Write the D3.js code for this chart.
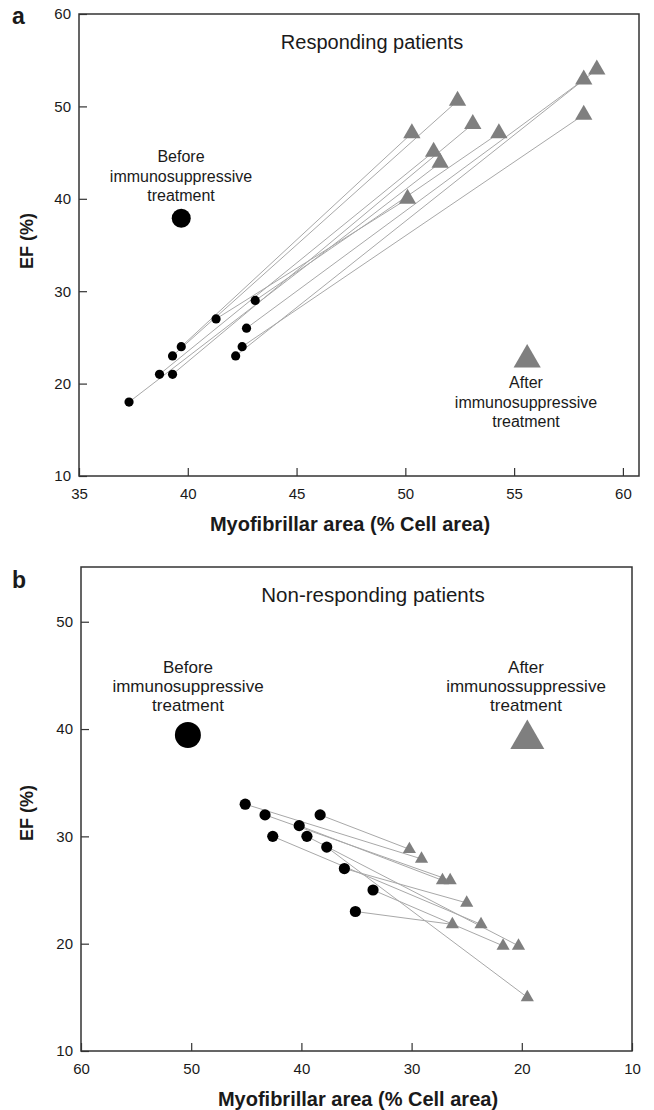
<!DOCTYPE html>
<html>
<head>
<meta charset="utf-8">
<script src="https://cdn.jsdelivr.net/npm/d3@7"></script>
<style>
  body { margin: 0; background: #fff; }
  svg text { font-family: "Liberation Sans", Arial, sans-serif; fill: #1a1a1a; }
</style>
</head>
<body>
<div id="chart"></div>
<script>
const width = 654;
const height = 1110;

// Responding patients (panel a), index i = same patient before/after
const respBeforeX = [37.3, 38.7, 39.3, 39.3, 39.7, 41.3, 43.1, 42.7, 42.5, 42.2];
const respBeforeY = [18, 21, 21, 23, 24, 27, 29, 26, 24, 23];
const respAfterX = [51.6, 51.3, 53.1, 52.4, 50.3, 50.1, 54.3, 58.2, 58.2, 58.8];
const respAfterY = [43.9, 45.1, 48.1, 50.6, 47.1, 40.0, 47.1, 52.9, 49.1, 54.0];

// Non-responding patients (panel b)
const nonBeforeX = [45.1, 43.3, 38.3, 40.2, 39.5, 42.6, 37.7, 36.1, 33.5, 35.1];
const nonBeforeY = [33, 32, 32, 31, 30, 30, 29, 27, 25, 23];
const nonAfterX = [29.1, 26.5, 30.2, 27.2, 20.3, 23.7, 19.5, 25.0, 21.7, 26.3];
const nonAfterY = [27.9, 25.9, 28.8, 25.9, 19.8, 21.8, 15.0, 23.8, 19.8, 21.8];

const ticksXa = [35, 40, 45, 50, 55, 60];
const ticksYa = [10, 20, 30, 40, 50, 60];
const ticksXb = [60, 50, 40, 30, 20, 10];
const ticksYb = [10, 20, 30, 40, 50];

const svg = d3
  .select("#chart")
  .append("svg")
  .attr("width", width)
  .attr("height", height);

function panel(cfg) {
  const x = d3.scaleLinear().domain(cfg.xDomain).range([cfg.left, cfg.right]);
  const y = d3.scaleLinear().domain(cfg.yDomain).range([cfg.bottom, cfg.top]);
  const g = svg.append("g");

  // axes, ticks pointing inward
  const ax = g
    .append("g")
    .attr("transform", `translate(0,${cfg.bottom})`)
    .call(d3.axisBottom(x).tickValues(cfg.ticksX).tickSize(-8).tickSizeOuter(0).tickPadding(12));
  const ay = g
    .append("g")
    .attr("transform", `translate(${cfg.left},0)`)
    .call(d3.axisLeft(y).tickValues(cfg.ticksY).tickSize(-8).tickSizeOuter(0).tickPadding(8));
  [ax, ay].forEach((a) => {
    a.select(".domain").remove();
    a.selectAll("line").attr("stroke", "#333").attr("stroke-width", 1.2);
    a.selectAll("text").attr("font-size", 15).attr("fill", "#1a1a1a");
  });

  g.append("rect")
    .attr("x", cfg.left)
    .attr("y", cfg.top)
    .attr("width", cfg.right - cfg.left)
    .attr("height", cfg.bottom - cfg.top)
    .attr("fill", "none")
    .attr("stroke", "#333")
    .attr("stroke-width", 1.5);

  const idx = d3.range(cfg.bx.length);

  g.selectAll(".veza")
    .data(idx)
    .join("line")
    .attr("x1", (i) => x(cfg.bx[i]))
    .attr("y1", (i) => y(cfg.by[i]))
    .attr("x2", (i) => x(cfg.axv[i]))
    .attr("y2", (i) => y(cfg.ayv[i]))
    .attr("stroke", "#a8a8a8")
    .attr("stroke-width", 1);

  const tri = d3.symbol().type(d3.symbolTriangle).size(cfg.triSize);
  g.selectAll(".poslije")
    .data(idx)
    .join("path")
    .attr("d", tri)
    .attr("transform", (i) => `translate(${x(cfg.axv[i])},${y(cfg.ayv[i])})`)
    .attr("fill", "#7f7f7f");

  g.selectAll(".prije")
    .data(idx)
    .join("circle")
    .attr("cx", (i) => x(cfg.bx[i]))
    .attr("cy", (i) => y(cfg.by[i]))
    .attr("r", cfg.dotR)
    .attr("fill", "#000");

  // legend markers, placed in data units
  g.append("circle")
    .attr("cx", x(cfg.legBefore[0]))
    .attr("cy", y(cfg.legBefore[1]))
    .attr("r", cfg.legR)
    .attr("fill", "#000");
  g.append("path")
    .attr("d", d3.symbol().type(d3.symbolTriangle).size(cfg.legTri)())
    .attr("transform", `translate(${x(cfg.legAfter[0])},${y(cfg.legAfter[1])})`)
    .attr("fill", "#7f7f7f");

  function lines(cx, cy, arr) {
    const t = g
      .append("text")
      .attr("text-anchor", "middle")
      .attr("font-size", cfg.noteSize);
    arr.forEach((s, k) => {
      t.append("tspan").attr("x", cx).attr("y", cy + k * cfg.noteGap).text(s);
    });
  }
  lines(cfg.beforeText[0], cfg.beforeText[1], ["Before", "immunosuppressive", "treatment"]);
  lines(cfg.afterText[0], cfg.afterText[1], ["After", cfg.afterWord, "treatment"]);

  g.append("text")
    .attr("x", cfg.titleX)
    .attr("y", cfg.top + 35)
    .attr("text-anchor", "middle")
    .attr("font-size", cfg.titleSize)
    .text(cfg.title);

  g.append("text")
    .attr("x", cfg.xTitleX)
    .attr("y", cfg.bottom + 55)
    .attr("text-anchor", "middle")
    .attr("font-size", 20)
    .attr("font-weight", "bold")
    .text("Myofibrillar area (% Cell area)");

  g.append("text")
    .attr("transform", `translate(33,${(cfg.top + cfg.bottom) / 2 + cfg.efDy}) rotate(-90)`)
    .attr("text-anchor", "middle")
    .attr("font-size", 18)
    .attr("font-weight", "bold")
    .text("EF (%)");

  g.append("text")
    .attr("x", 12)
    .attr("y", cfg.top + cfg.letterDy)
    .attr("font-size", 23)
    .attr("font-weight", "bold")
    .text(cfg.letter);
}

panel({
  left: 79, right: 639, top: 14, bottom: 476,
  xDomain: [35, 60.74], yDomain: [10, 60],
  ticksX: ticksXa, ticksY: ticksYa,
  bx: respBeforeX, by: respBeforeY, axv: respAfterX, ayv: respAfterY,
  dotR: 4.6, triSize: 130,
  legBefore: [39.7, 37.9], legR: 9.5,
  legAfter: [55.6, 22.6], legTri: 320,
  beforeText: [181, 162], afterText: [526, 388],
  noteSize: 16, noteGap: 19.5,
  afterWord: "immunosuppressive",
  title: "Responding patients", titleX: 372, titleSize: 20, xTitleX: 350,
  efDy: -4, letter: "a", letterDy: 10,
});

panel({
  left: 81, right: 632, top: 567, bottom: 1051,
  xDomain: [60, 10], yDomain: [10, 55.1],
  ticksX: ticksXb, ticksY: ticksYb,
  bx: nonBeforeX, by: nonBeforeY, axv: nonAfterX, ayv: nonAfterY,
  dotR: 5.6, triSize: 75,
  legBefore: [50.3, 39.45], legR: 13,
  legAfter: [19.5, 39.05], legTri: 500,
  beforeText: [188, 673], afterText: [526, 673],
  noteSize: 17, noteGap: 19,
  afterWord: "immunossuppressive",
  title: "Non-responding patients", titleX: 373, titleSize: 20.5, xTitleX: 358,
  efDy: 4, letter: "b", letterDy: 21,
});
</script>
</body>
</html>
